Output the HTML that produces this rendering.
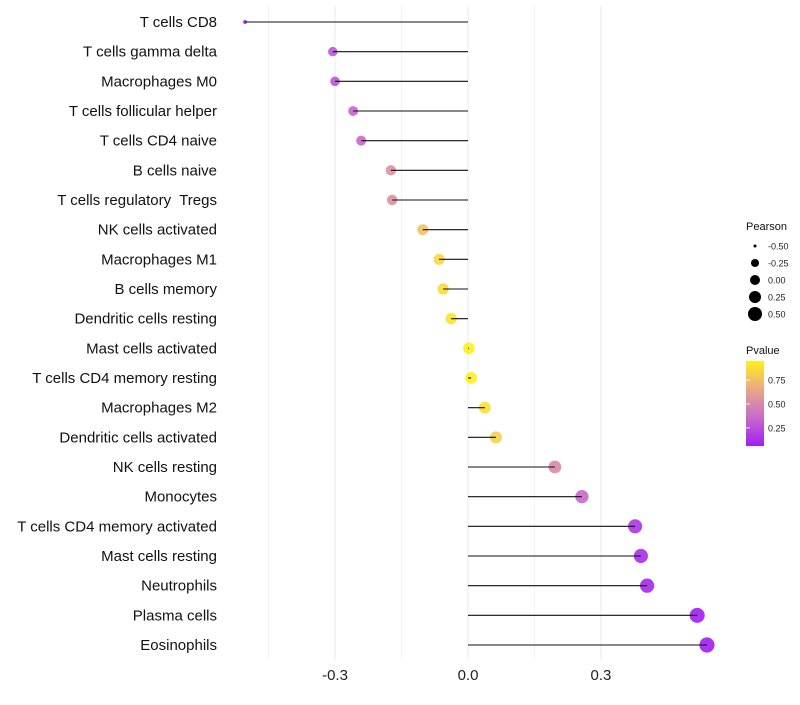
<!DOCTYPE html>
<html><head><meta charset="utf-8"><style>
body{margin:0;background:#fff;font-family:"Liberation Sans",sans-serif}
text{white-space:pre}
</style></head><body>
<svg id="chart" width="800" height="700" xmlns="http://www.w3.org/2000/svg">
<defs><linearGradient id="pg" x1="0" y1="1" x2="0" y2="0">
<stop offset="0" stop-color="#A21EF0"/><stop offset="0.33" stop-color="#C66ACB"/><stop offset="0.66" stop-color="#E9A68B"/><stop offset="1" stop-color="#FFF01A"/>
</linearGradient></defs>
<g id="grid"></g><g id="marks"></g><g id="labels"></g><g id="legend"></g>
</svg>
<script>
const categories=["T cells CD8","T cells gamma delta","Macrophages M0","T cells follicular helper","T cells CD4 naive","B cells naive","T cells regulatory  Tregs","NK cells activated","Macrophages M1","B cells memory","Dendritic cells resting","Mast cells activated","T cells CD4 memory resting","Macrophages M2","Dendritic cells activated","NK cells resting","Monocytes","T cells CD4 memory activated","Mast cells resting","Neutrophils","Plasma cells","Eosinophils"];
const pearson=[-0.503,-0.305,-0.300,-0.259,-0.241,-0.174,-0.171,-0.102,-0.065,-0.056,-0.038,0.002,0.007,0.038,0.063,0.196,0.257,0.377,0.390,0.404,0.517,0.539];
const pvalue=[0.12,0.28,0.28,0.33,0.35,0.55,0.55,0.76,0.85,0.87,0.9,0.97,0.96,0.88,0.82,0.5,0.35,0.15,0.12,0.1,0.06,0.05];
const xTicks=[-0.3,0.0,0.3];
const xTickLabels=["-0.3","0.0","0.3"];
const minorTicks=[-0.45,-0.15,0.15];
const legendSizes=[-0.5,-0.25,0,0.25,0.5];
const legendSizeLabels=["-0.50","-0.25","0.00","0.25","0.50"];
const pTicks=[0.25,0.5,0.75];
const ns="http://www.w3.org/2000/svg";
const X=v=>468+v*443.3;
const Y=i=>22+i*29.667;
const rKnots=[[-0.5,2],[-0.3,4.8],[0,5.8],[0.25,6.6],[0.54,7.6]];
function R(v){if(v<=rKnots[0][0])return rKnots[0][1];for(let k=1;k<rKnots.length;k++){if(v<=rKnots[k][0]){const a=rKnots[k-1],b=rKnots[k];return a[1]+(b[1]-a[1])*(v-a[0])/(b[0]-a[0]);}}return rKnots[rKnots.length-1][1];}
const lKnots=[[-0.5,1.5],[-0.25,4],[0,5],[0.25,6],[0.5,7]];
function LR(v){for(let k=1;k<lKnots.length;k++){if(v<=lKnots[k][0]){const a=lKnots[k-1],b=lKnots[k];return a[1]+(b[1]-a[1])*(v-a[0])/(b[0]-a[0]);}}return 7;}
const stops=[[0,[162,30,240]],[0.33,[198,106,203]],[0.66,[233,166,139]],[1,[255,240,26]]];
function col(p){let t=Math.min(1,Math.max(0,(p-0.06)/0.89));for(let k=1;k<stops.length;k++){if(t<=stops[k][0]){const a=stops[k-1],b=stops[k];const f=(t-a[0])/(b[0]-a[0]);return "rgb("+a[1].map((c,j)=>Math.round(c+(b[1][j]-c)*f)).join(",")+")";}}return "rgb(255,240,26)";}
function mk(tag,attrs,parent,text){const e=document.createElementNS(ns,tag);for(const k in attrs)e.setAttribute(k,attrs[k]);if(text!==undefined)e.textContent=text;document.getElementById(parent).appendChild(e);return e;}
minorTicks.forEach(v=>{const l=mk("line",{x1:X(v),x2:X(v),y1:5,y2:660,stroke:"#f3f3f3","stroke-width":1},"grid");

});
xTicks.forEach((v,i)=>{const l=mk("line",{x1:X(v),x2:X(v),y1:5,y2:660,stroke:"#ebebeb","stroke-width":1},"grid");


const t=mk("text",{x:X(v),y:680,"text-anchor":"middle","font-size":15,fill:"#222"},"labels",xTickLabels[i]);

});
categories.forEach((c,i)=>{const y=Y(i);
const cc=mk("circle",{cx:X(pearson[i]),cy:y,r:R(pearson[i]),fill:col(pvalue[i]),"fill-opacity":0.9},"marks");


const l=mk("line",{x1:X(0),x2:X(pearson[i]),y1:y,y2:y,stroke:"#111","stroke-width":1.1},"marks");


const t=mk("text",{x:217,y:y+5,"text-anchor":"end","font-size":15,fill:"#111"},"labels",c);

});
const lt=mk("text",{x:746,y:230,"font-size":11,fill:"#111"},"legend","Pearson");


legendSizes.forEach((v,i)=>{const y=246+i*17;
const c=mk("circle",{cx:755,cy:y,r:LR(v),fill:"#000"},"legend");


const t=mk("text",{x:768,y:y+3.5,"font-size":9,fill:"#222"},"legend",legendSizeLabels[i]);

});
const pt=mk("text",{x:746,y:354,"font-size":11,fill:"#111"},"legend","Pvalue");


const bar=mk("rect",{x:746,y:361,width:18,height:85,fill:"url(#pg)"},"legend");


pTicks.forEach(p=>{const y=446-(p-0.06)/0.89*85;
const t=mk("text",{x:768,y:y+3.5,"font-size":9,fill:"#222"},"legend",p.toFixed(2));


const l=mk("line",{x1:746,x2:750,y1:y,y2:y,stroke:"#fff","stroke-width":0.8},"legend");

});
</script>
</body></html>
